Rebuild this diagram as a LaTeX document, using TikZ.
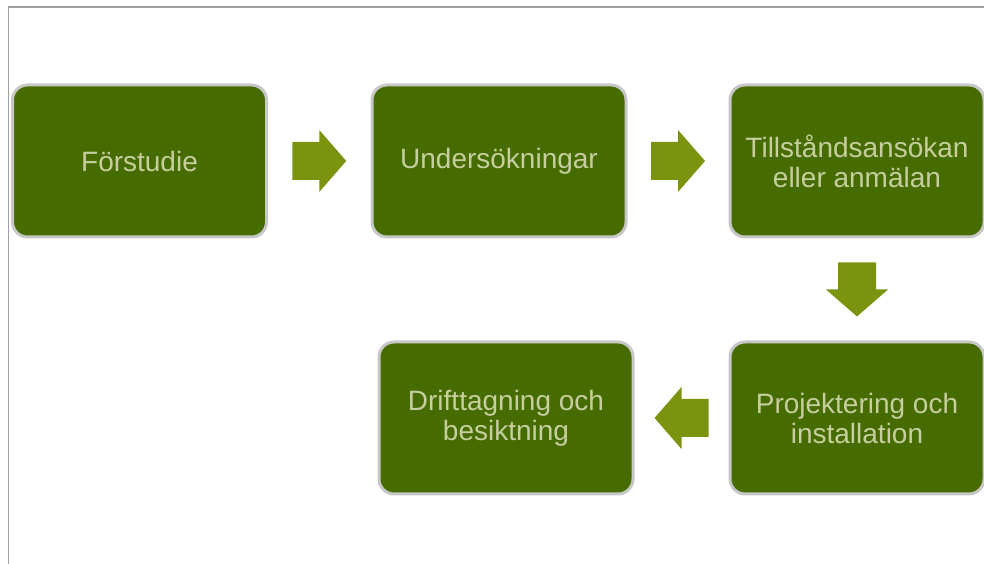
\documentclass[tikz,border=0pt]{standalone}
\usepackage{fontspec}
\setmainfont{Liberation Sans}
\usetikzlibrary{calc,positioning}

\definecolor{stepgreen}{RGB}{70,108,0}
\definecolor{arrowgreen}{RGB}{122,148,16}
\definecolor{steptext}{RGB}{198,206,160}
\definecolor{framegray}{RGB}{160,160,160}

\begin{document}
\begin{tikzpicture}[
x=1pt, y=1pt,
stepbox/.style={rounded corners=15pt, fill=stepgreen, draw=black!22, line width=3pt,
  minimum width=254pt, minimum height=152pt, inner sep=0pt, align={center},
  text=steptext, font=\fontsize{28}{30}\selectfont},
blockarrow/.pic={
  \fill[arrowgreen] (-27,-19) -- (0,-19) -- (0,-31) -- (27,0) -- (0,31) -- (0,19) -- (-27,19) -- cycle;
}
]
\useasboundingbox (0,0) rectangle (984,564);
\draw[framegray, line width=1.2pt] (8.5,0) -- (8.5,557) -- (984,557);

\node[stepbox] (forstudie) at (139.5,403) {F\"orstudie};
\node[stepbox] (undersok) at (499,403) {Unders\"okningar};
\node[stepbox] (tillstand) at (857,403) {Tillst\aa ndsans\"okan\\eller anm\"alan};
\node[stepbox] (projekt) at (857,146) {Projektering och\\installation};
\node[stepbox] (drift) at (506,146) {Drifttagning och\\besiktning};

\pic at ($(forstudie.east)!0.5!(undersok.west)$) {blockarrow};
\pic at ($(undersok.east)!0.5!(tillstand.west)$) {blockarrow};
\pic[rotate=-90] at ($(tillstand.south)!0.5!(projekt.north)$) {blockarrow};
\pic[rotate=180] at ($(projekt.west)!0.5!(drift.east)$) {blockarrow};
\end{tikzpicture}
\end{document}
